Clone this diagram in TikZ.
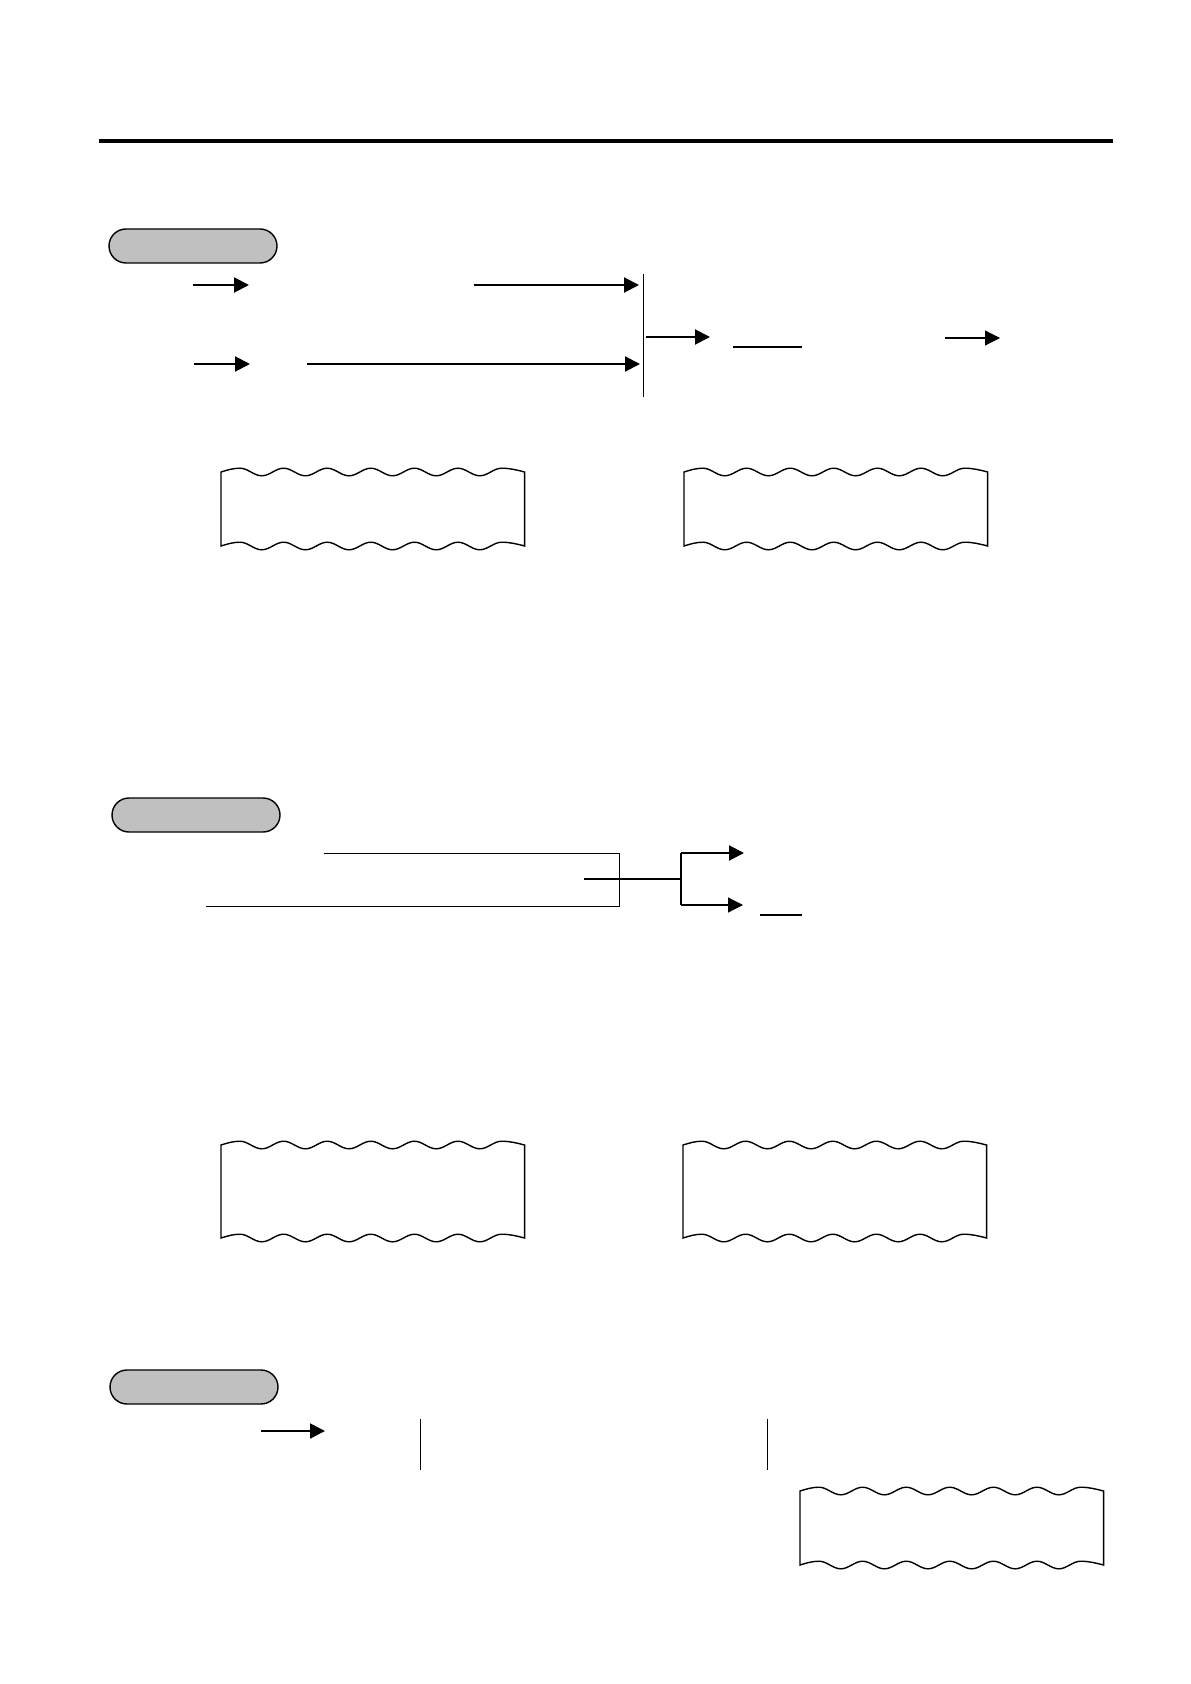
\documentclass[tikz,border=0pt]{standalone}
\usetikzlibrary{arrows.meta}
\definecolor{pillgray}{HTML}{C0C0C0}
\tikzset{
  pill/.style={draw, fill=pillgray, line width=0.7pt, rounded corners=8.5pt,
    minimum width=84pt, minimum height=17pt, inner sep=0pt},
  fatarrow/.style={line width=1pt, -{Triangle[length=7.5pt,width=7.5pt]}},
  slimarrow/.style={line width=0.55pt, -{Triangle[length=7.5pt,width=7.5pt]}},
  slimline/.style={line width=0.5pt},
  fatline/.style={line width=1pt},
  tapeline/.style={line width=0.7pt},
  pics/tape/.style={code={
    \draw[tapeline] (0,0) sin ++(19,-3.8)
      \foreach \k in {1,...,6}{ cos ++(10.9,3.8) sin ++(10.9,3.8) cos ++(10.9,-3.8) sin ++(10.9,-3.8) }
      cos ++(23,3.8) -- ++(0,#1) sin ++(-23,-3.8)
      \foreach \k in {1,...,6}{ cos ++(-10.9,3.8) sin ++(-10.9,3.8) cos ++(-10.9,-3.8) sin ++(-10.9,-3.8) }
      cos ++(-19,3.8) -- cycle;
  }}
}
\begin{document}
\begin{tikzpicture}[x=0.5pt,y=-0.5pt]
\useasboundingbox (0,0) rectangle (1190,1684);
% top rule
\draw[line width=2pt] (99,141) -- (1113,141);

% first block
\node[pill] (tag1) at (193,246) {};
\coordinate (bar1t) at (643,274);
\coordinate (bar1b) at (643,397);
\draw[slimline] (bar1t) -- (bar1b);
\coordinate (a1) at (193,285); \coordinate (a1e) at (249,285);
\coordinate (a2) at (474,285); \coordinate (a2e) at (639,285);
\coordinate (b1) at (194,364); \coordinate (b1e) at (250,364);
\coordinate (b2) at (307,364); \coordinate (b2e) at (640,364);
\draw[fatarrow] (a1) -- (a1e);
\draw[fatarrow] (a2) -- (a2e);
\draw[fatarrow] (b1) -- (b1e);
\draw[fatarrow] (b2) -- (b2e);
\coordinate (c1) at (646,337); \coordinate (c1e) at (710,337);
\draw[fatarrow] (c1) -- (c1e);
\coordinate (u1) at (733,347); \coordinate (u1e) at (802,347);
\draw[fatline] (u1) -- (u1e);
\coordinate (d1) at (945,338); \coordinate (d1e) at (1000,338);
\draw[slimarrow] (d1) -- (d1e);

\pic at (221,472) {tape=74};
\pic at (684,472) {tape=74};

% second block
\node[pill] (tag2) at (196,815) {};
\coordinate (e1) at (324,853); \coordinate (e2) at (206,906);
\coordinate (brk) at (619,853);
\draw[slimline] (e1) -- (brk) |- (e2);
\coordinate (m1) at (584,879); \coordinate (fork) at (681,879);
\draw[line width=1.2pt] (m1) -- (fork);
\coordinate (f1) at (681,853); \coordinate (f1e) at (744,853);
\coordinate (f2) at (681,905); \coordinate (f2e) at (743,905);
\draw[line width=1pt] (f1) -- (f2);
\draw[fatarrow] (f1) -- (f1e);
\draw[slimarrow] (f2) -- (f2e);
\coordinate (u2) at (760,915); \coordinate (u2e) at (802,915);
\draw[fatline] (u2) -- (u2e);

\pic at (221,1145) {tape=93};
\pic at (683,1145) {tape=93};

% third block
\node[pill] (tag3) at (194,1387) {};
\coordinate (g1) at (261,1431); \coordinate (g1e) at (325,1431);
\draw[fatarrow] (g1) -- (g1e);
\coordinate (h1) at (420,1419); \coordinate (h1e) at (420,1470);
\coordinate (h2) at (767,1419); \coordinate (h2e) at (767,1470);
\draw[slimline] (h1) -- (h1e);
\draw[slimline] (h2) -- (h2e);

\pic at (800,1491) {tape=74};
\end{tikzpicture}
\end{document}
